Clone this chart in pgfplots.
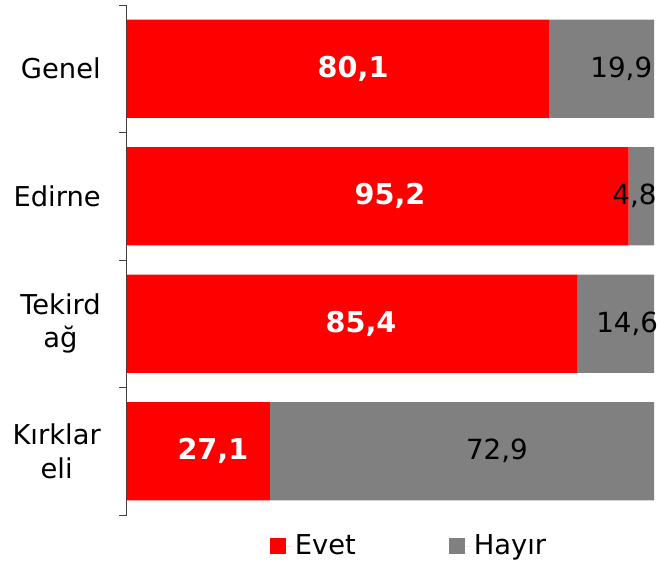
\documentclass[border=0pt]{standalone}
\usepackage{pgfplots}
\pgfplotsset{compat=1.18}
\usepackage{fontspec}
\setmainfont{DejaVu Sans}
\definecolor{evet}{HTML}{FF0000}
\definecolor{hayir}{HTML}{808080}
\definecolor{axgray}{HTML}{404040}
\tikzset{wlab/.style={text=white, font=\fontsize{21.5}{25}\selectfont\bfseries, anchor=center, inner sep=0pt},
  blab/.style={text=black, font=\fontsize{20.8}{25}\selectfont, anchor=center, inner sep=0pt}}
\begin{document}
\fontsize{20.5}{25}\selectfont
\begin{tikzpicture}
\useasboundingbox (-95.25pt,-38.25pt) rectangle (399.75pt,386.25pt);
\begin{axis}[
  at={(0pt,0pt)}, anchor=south west,
  scale only axis, width=395.25pt, height=382.5pt,
  xbar stacked, bar width=0.77,
  xmin=0, xmax=100, ymin=-0.5, ymax=3.5, y dir=reverse,
  axis x line=none, axis y line*=left,
  ytick={-0.5,0.5,1.5,2.5,3.5},
  yticklabels={Genel,Edirne,{Tekird\\ağ},{Kırklar\\eli}},
  y tick label as interval,
  yticklabel style={align=center, font=\fontsize{20.5}{25}\selectfont, inner sep=0pt, xshift=-13.5pt},
  tick align=outside, major tick length=6pt,
  axis line style={axgray, line width=0.75pt},
  tick style={axgray, line width=0.75pt},
  legend style={draw=none, legend columns=2, at={(0.536,-0.061)}, anchor=center,
    font=\fontsize{20.5}{25}\selectfont,
    /tikz/every even column/.append style={column sep=68pt}},
  legend image code/.code={\fill[#1] (0pt,-6pt) rectangle (12pt,6pt); \path (0pt,0pt) -- (16.5pt,0pt);},
]
\addplot[fill=evet, draw=none]
  coordinates {(80.1,0) (95.2,1) (85.4,2) (27.1,3)};
\addlegendentry{Evet}
\addplot[fill=hayir, draw=none]
  coordinates {(19.9,0) (4.8,1) (14.6,2) (72.9,3)};
\addlegendentry{Hayır}
\coordinate (e0) at (axis cs:42.9,0);
\coordinate (e1) at (axis cs:49.9,1);
\coordinate (e2) at (axis cs:44.4,2);
\coordinate (e3) at (axis cs:16.3,3);
\coordinate (h0) at (axis cs:93.8,0);
\coordinate (h1) at (axis cs:96.3,1);
\coordinate (h2) at (axis cs:94.9,2);
\coordinate (h3) at (axis cs:70.2,3);
\end{axis}
\node[wlab] at (e0) {80,1};
\node[wlab] at (e1) {95,2};
\node[wlab] at (e2) {85,4};
\node[wlab] at (e3) {27,1};
\node[blab] at (h0) {19,9};
\node[blab] at (h1) {4,8};
\node[blab] at (h2) {14,6};
\node[blab] at (h3) {72,9};
\end{tikzpicture}
\end{document}
